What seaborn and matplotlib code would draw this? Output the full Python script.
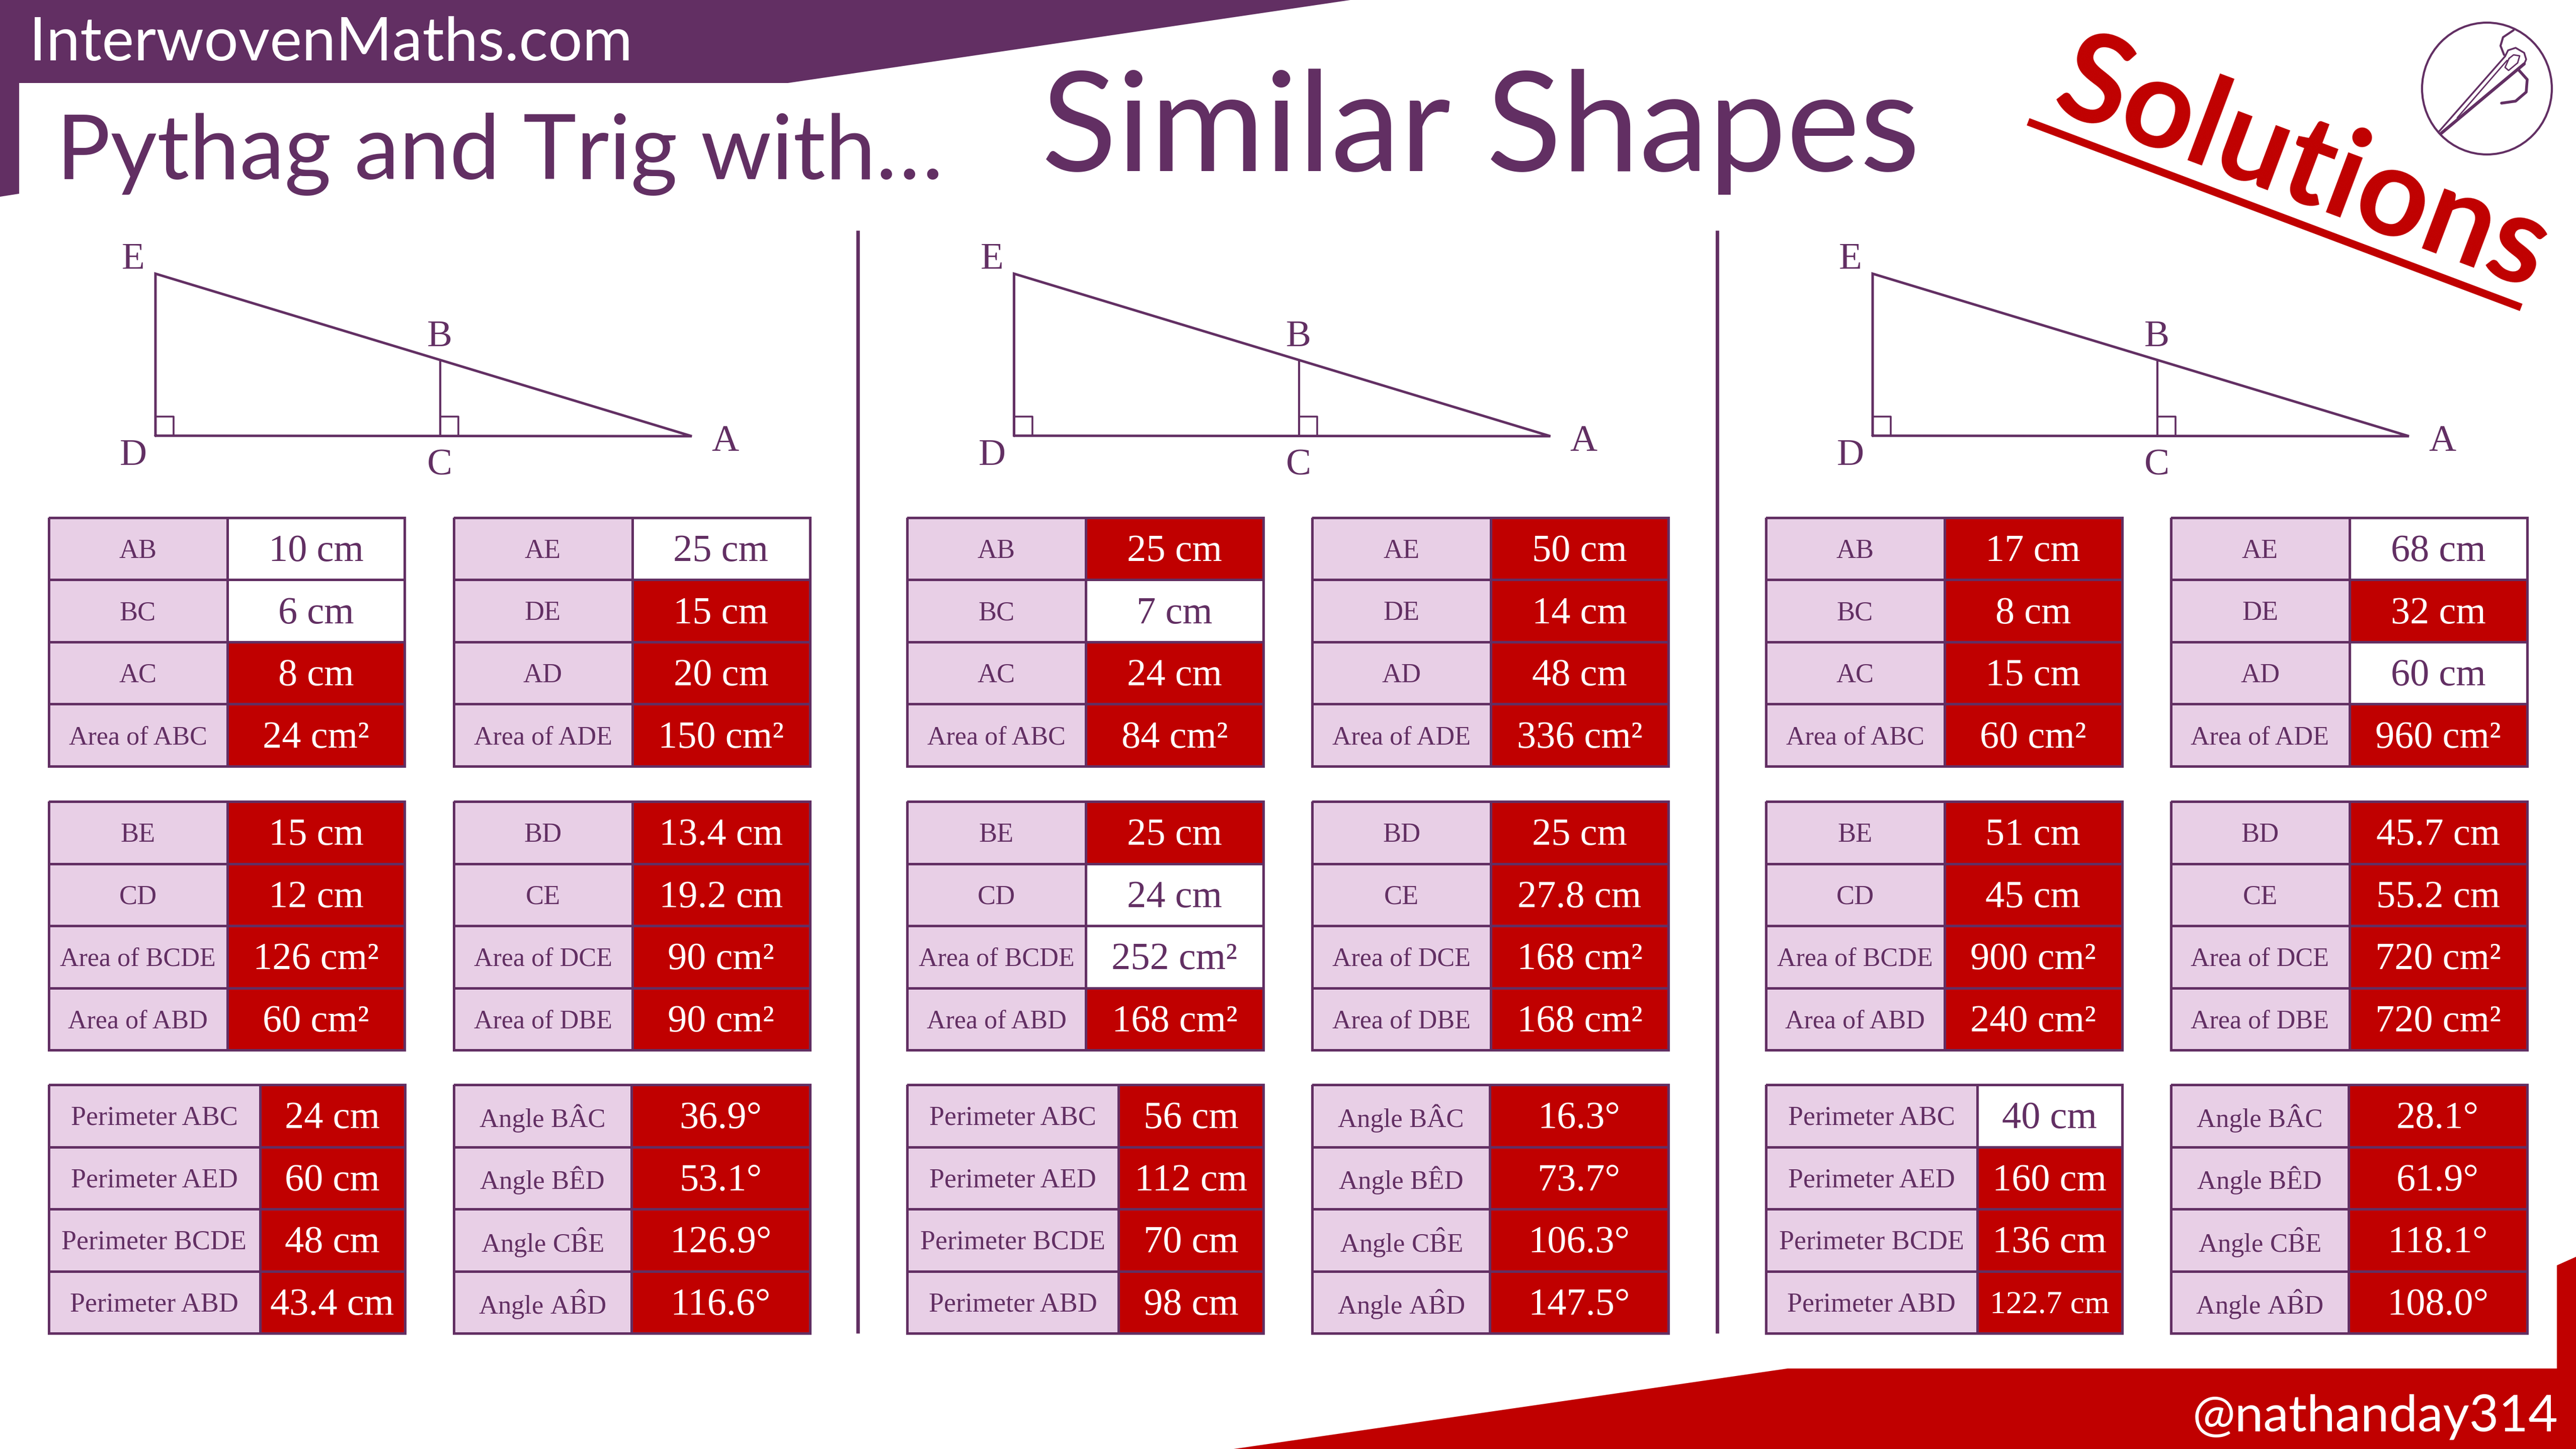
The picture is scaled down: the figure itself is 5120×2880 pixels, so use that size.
import matplotlib
matplotlib.use("Agg")
import matplotlib.pyplot as plt
from matplotlib.colors import ListedColormap
from matplotlib.patches import Polygon, Ellipse
import numpy as np
import seaborn as sns

sns.set_theme(style="white")
plt.rcParams['font.family'] = ['Liberation Serif', 'DejaVu Serif']
plt.rcParams['mathtext.fontset'] = 'custom'
plt.rcParams['mathtext.rm'] = 'Liberation Serif'

purple = "#622F63"
red = "#C00000"
lilac = "#E8CFE6"

# row labels of the six tables
labels_top_left = ["AB", "BC", "AC", "Area of ABC"]
labels_top_right = ["AE", "DE", "AD", "Area of ADE"]
labels_mid_left = ["BE", "CD", "Area of BCDE", "Area of ABD"]
labels_mid_right = ["BD", "CE", "Area of DCE", "Area of DBE"]
labels_bot_left = ["Perimeter ABC", "Perimeter AED", "Perimeter BCDE", "Perimeter ABD"]
labels_bot_right = ["Angle B\u00c2C", "Angle B\u00caD", r"Angle C$\hat{\mathrm{B}}$E", r"Angle A$\hat{\mathrm{B}}$D"]

# panel 1
p1_top_left = ["10 cm", "6 cm", "8 cm", "24 cm²"]
p1_top_right = ["25 cm", "15 cm", "20 cm", "150 cm²"]
p1_mid_left = ["15 cm", "12 cm", "126 cm²", "60 cm²"]
p1_mid_right = ["13.4 cm", "19.2 cm", "90 cm²", "90 cm²"]
p1_bot_left = ["24 cm", "60 cm", "48 cm", "43.4 cm"]
p1_bot_right = ["36.9°", "53.1°", "126.9°", "116.6°"]
# panel 2
p2_top_left = ["25 cm", "7 cm", "24 cm", "84 cm²"]
p2_top_right = ["50 cm", "14 cm", "48 cm", "336 cm²"]
p2_mid_left = ["25 cm", "24 cm", "252 cm²", "168 cm²"]
p2_mid_right = ["25 cm", "27.8 cm", "168 cm²", "168 cm²"]
p2_bot_left = ["56 cm", "112 cm", "70 cm", "98 cm"]
p2_bot_right = ["16.3°", "73.7°", "106.3°", "147.5°"]
# panel 3
p3_top_left = ["17 cm", "8 cm", "15 cm", "60 cm²"]
p3_top_right = ["68 cm", "32 cm", "60 cm", "960 cm²"]
p3_mid_left = ["51 cm", "45 cm", "900 cm²", "240 cm²"]
p3_mid_right = ["45.7 cm", "55.2 cm", "720 cm²", "720 cm²"]
p3_bot_left = ["40 cm", "160 cm", "136 cm", "122.7 cm"]
p3_bot_right = ["28.1°", "61.9°", "118.1°", "108.0°"]

# 1 = answer (red cell), 0 = given in the question (white cell)
p1_answer = [[0, 0, 1, 1], [0, 1, 1, 1], [1, 1, 1, 1], [1, 1, 1, 1], [1, 1, 1, 1], [1, 1, 1, 1]]
p2_answer = [[1, 0, 1, 1], [1, 1, 1, 1], [1, 0, 0, 1], [1, 1, 1, 1], [1, 1, 1, 1], [1, 1, 1, 1]]
p3_answer = [[1, 1, 1, 1], [0, 1, 0, 1], [1, 1, 1, 1], [1, 1, 1, 1], [0, 1, 1, 1], [1, 1, 1, 1]]

W, H = 5120, 2880
fig = plt.figure(figsize=(51.2, 28.8), dpi=100, facecolor="white")

# page furniture lives on one full size axes in pixel coordinates
bg = fig.add_axes([0, 0, 1, 1], zorder=0)
bg.set_xlim(0, W)
bg.set_ylim(H, 0)
bg.axis("off")

bg.add_patch(Polygon([(0, 0), (2684, 0), (1566, 165), (38, 165), (38, 385), (0, 391)], color=purple, lw=0))
bg.add_patch(Polygon([(2452, 2880), (3553, 2720), (5082, 2720), (5082, 2515), (5120, 2498), (5120, 2880)], color=red, lw=0))

bg.text(58, 120, "InterwovenMaths.com", color="white", fontsize=87, family="Lato", va="baseline")
bg.text(112, 356, "Pythag and Trig with…", color=purple, fontsize=129, family="Lato", va="baseline")
bg.text(2070, 340, "Similar Shapes", color=purple, fontsize=199, family="Lato", va="baseline")
bg.text(5085, 2845, "@nathanday314", color="white", fontsize=73, family="Lato", ha="right", va="baseline")

# solutions stamp
bg.text(4552, 397, "Solutions", color=red, fontsize=178, family="Lato", weight="bold",
        rotation=-20.6, rotation_mode="anchor", ha="center", va="baseline")
bg.plot([4031, 5011], [242, 611], color=red, lw=11, solid_capstyle="butt")

# needle logo
bg.add_patch(Ellipse((4943, 176), 258, 262, fill=False, ec=purple, lw=3))
bg.plot([4852, 5017], [265, 127], color=purple, lw=4.5)
bg.plot([4848, 4979], [261, 112], color=purple, lw=2.5)
bg.plot([4884, 4983], [234, 120], color=purple, lw=2)
bg.plot([4979, 4985, 5000, 5017, 5021, 5017], [112, 100, 95, 105, 118, 127], color=purple, lw=2.5)
bg.plot([4996, 4975, 4970, 4977], [60, 74, 91, 109], color=purple, lw=3)
bg.plot([5006, 5023, 5021, 5000, 4972], [139, 158, 183, 201, 205], color=purple, lw=4)
bg.plot([4987, 4979, 4986, 5004, 5008, 4996, 4987], [116, 134, 140, 125, 111, 109, 116], color=purple, lw=2)


def add_axes_px(x, y, w, h):
    return fig.add_axes([x / W, 1 - (y + h) / H, w / W, h / H], zorder=2)


def column(x, y, w, h, cells, colours, cmap, colour_of, size_of, nudge):
    ax = add_axes_px(x, y, w, h)
    sns.heatmap(np.array(colours).reshape(4, 1), annot=np.array(cells).reshape(4, 1), fmt="", cmap=cmap,
                vmin=0, vmax=1, cbar=False, linewidths=3.6, linecolor=purple,
                xticklabels=False, yticklabels=False, ax=ax,
                annot_kws={"fontsize": 40, "family": "Liberation Serif"})
    ax.collections[0].set_clip_on(False)
    for txt, c, cell in zip(ax.texts, colours, cells):
        txt.set_color(colour_of(c))
        txt.set_fontsize(size_of(cell))
        px, py = txt.get_position()
        txt.set_position((px, py + nudge))
    return ax


label_cmap = ListedColormap([lilac, lilac])
value_cmap = ListedColormap(["white", red])


def label_size(s):
    if s.startswith("Area"):
        return 37.5
    if s.startswith("Angle"):
        return 38
    return 39


def value_size(s):
    return 46 if s == "122.7 cm" else 55


def table(x, y, label_w, labels, values, answer):
    row_h = 123.5
    total_w = 708
    column(x, y, label_w, row_h * 4, labels, [0, 0, 0, 0], label_cmap, lambda c: purple, label_size, 0.04)
    column(x + label_w, y, total_w - label_w, row_h * 4, values, answer, value_cmap,
           lambda c: "white" if c else purple, value_size, 0.05)


panel_x = [0, 1706.5, 3413]
panels = [
    [p1_top_left, p1_top_right, p1_mid_left, p1_mid_right, p1_bot_left, p1_bot_right, p1_answer],
    [p2_top_left, p2_top_right, p2_mid_left, p2_mid_right, p2_bot_left, p2_bot_right, p2_answer],
    [p3_top_left, p3_top_right, p3_mid_left, p3_mid_right, p3_bot_left, p3_bot_right, p3_answer],
]
label_sets = [labels_top_left, labels_top_right, labels_mid_left, labels_mid_right, labels_bot_left, labels_bot_right]
slots = [(96.5, 1029, 355), (901.5, 1029, 355), (96.5, 1593, 355), (901.5, 1593, 355), (96.5, 2156, 420), (901.5, 2156, 353)]

for off, panel in zip(panel_x, panels):
    ans = panel[6]
    for i in range(6):
        sx, sy, lw_ = slots[i]
        table(sx + off, sy, lw_, label_sets[i], panel[i], ans[i])

    # triangle diagram
    bg.plot(np.array([309, 1375, 309, 309]) + off, [866, 867, 544, 866], color=purple, lw=3.6, solid_joinstyle="miter")
    bg.plot(np.array([875, 875]) + off, [718, 866], color=purple, lw=3)
    bg.plot(np.array([309, 345, 345]) + off, [828, 828, 866], color=purple, lw=2.6)
    bg.plot(np.array([875, 911, 911]) + off, [828, 828, 866], color=purple, lw=2.6)
    for lab, lx, ly in [("E", 265, 516), ("B", 874, 670), ("D", 265, 906), ("C", 874, 926), ("A", 1441, 878)]:
        bg.text(lx + off, ly, lab, color=purple, fontsize=54, family="Liberation Serif", ha="center", va="center")

# vertical separators between the panels
for sep in [1705, 3413]:
    bg.plot([sep, sep], [458, 2650], color=purple, lw=5, solid_capstyle="butt")

fig.savefig("out.png", dpi=100)
